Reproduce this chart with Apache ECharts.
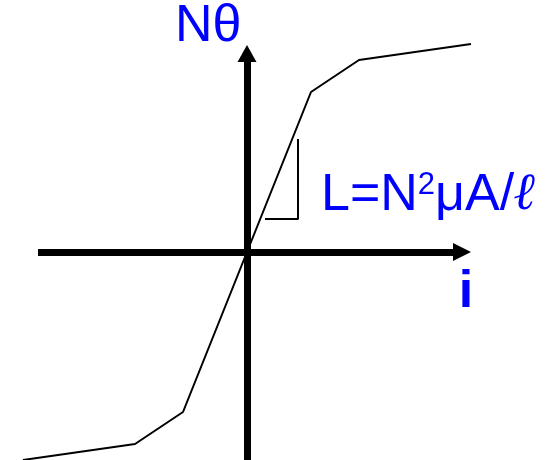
<!DOCTYPE html>
<html>
<head>
<meta charset="utf-8">
<script src="https://cdn.jsdelivr.net/npm/echarts@6/dist/echarts.min.js"></script>
<style>
  html, body { margin: 0; padding: 0; background: #fff; }
  #chart { width: 555px; height: 460px; }
</style>
</head>
<body>
<div id="chart"></div>
<script>
// Magnetization curve: flux linkage N·theta against current i (piecewise linear, saturating)
const currentI = [-14, -7, -4, 0, 4, 7, 14];
const fluxNTheta = [-13, -12, -10, 0, 10, 12, 13];

// Slope marker in the linear region (run then rise)
const slopeX = [1.125, 3.1875, 3.1875];
const slopeY = [2.0625, 2.0625, 7.0625];

// Extents of the drawn i and N·theta axes (arrow heads sit at the far ends)
const iAxisFrom = -13.0625, iAxisTo = 13.4375;
const nAxisFrom = -13, nAxisTo = 12.40625;

const BLUE = '#0000FF';
const FONT = 'Liberation Sans, Arial, sans-serif';

const curve = currentI.map((x, k) => [x, fluxNTheta[k]]);
const slope = slopeX.map((x, k) => [x, slopeY[k]]);

const chart = echarts.init(document.getElementById('chart'), null, { renderer: 'canvas' });

const hiddenAxis = {
  type: 'value',
  axisLine: { show: false },
  axisTick: { show: false },
  axisLabel: { show: false },
  splitLine: { show: false }
};

chart.setOption({
  animation: false,
  backgroundColor: '#fff',
  grid: { left: 0, right: 0, top: 0, bottom: 0, containLabel: false },
  xAxis: Object.assign({}, hiddenAxis, { min: -15.4375, max: 19.25 }),
  yAxis: Object.assign({}, hiddenAxis, { min: -13, max: 15.75 }),
  series: [
    {
      type: 'line',
      data: curve,
      symbol: 'none',
      lineStyle: { color: '#000', width: 2 },
      z: 3,
      markLine: {
        silent: true,
        animation: false,
        symbol: ['none', 'triangle'],
        label: { show: false },
        lineStyle: { color: '#000', width: 7, type: 'solid', cap: 'butt' },
        emphasis: { disabled: true },
        data: [
          [{ coord: [iAxisFrom, 0], symbolSize: 1 }, { coord: [iAxisTo, 0], symbolSize: [18, 18] }],
          [{ coord: [0, nAxisFrom], symbolSize: 1 }, { coord: [0, nAxisTo], symbolSize: [19, 17] }]
        ]
      }
    },
    {
      type: 'line',
      data: slope,
      symbol: 'none',
      lineStyle: { color: '#000', width: 2 },
      z: 3
    }
  ],
  graphic: [
    {
      type: 'text', x: 175, y: 27,
      style: { text: 'Nθ', fill: BLUE, font: '52px ' + FONT, verticalAlign: 'middle', align: 'left' }
    },
    {
      type: 'text', x: 321, y: 196,
      style: {
        text: '{a|L=N}{s|2}{a|μA/}{e|ℓ}',
        verticalAlign: 'middle', align: 'left',
        rich: {
          a: { fill: BLUE, fontSize: 52, fontFamily: FONT },
          s: { fill: BLUE, fontSize: 31, fontFamily: FONT, verticalAlign: 'top' },
          e: { fill: BLUE, fontSize: 52, fontFamily: 'Liberation Serif, serif', fontStyle: 'italic', fontWeight: 'bold' }
        }
      }
    },
    {
      type: 'text', x: 466, y: 293,
      style: { text: 'i', fill: BLUE, font: 'bold 52px ' + FONT, verticalAlign: 'middle', align: 'center' }
    }
  ]
});
</script>
</body>
</html>
